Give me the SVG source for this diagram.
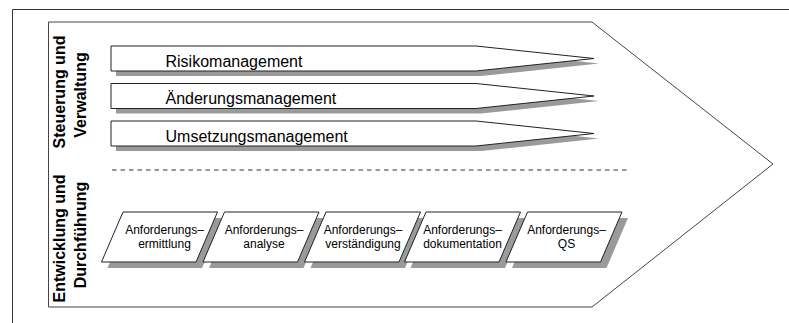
<svg xmlns="http://www.w3.org/2000/svg" width="789" height="323" viewBox="0 0 789 323">
  <style>
    .frame { fill: none; stroke: #333; stroke-width: 1; }
    .chevron { fill: #fff; stroke: #444; stroke-width: 1; }
    .shadow { fill: #9a9a9a; stroke: none; }
    .shape { fill: #fff; stroke: #222; stroke-width: 1; stroke-linejoin: miter; stroke-miterlimit: 20; }
    .sep { stroke: #333; stroke-width: 1.2; stroke-dasharray: 4.5 4; fill: none; }
    .lane { font-family: "Liberation Sans", Arial, sans-serif; font-weight: bold; font-size: 16px; fill: #000; text-anchor: middle; }
    .bar-label { font-family: "Liberation Sans", Arial, sans-serif; font-size: 16px; fill: #000; }
    .step-label { font-family: "Liberation Sans", Arial, sans-serif; font-size: 12px; fill: #000; text-anchor: middle; }
  </style>
  <defs>
    <!-- tapered process bar, origin at its top-left corner -->
    <polygon id="bar" points="0,0 365,0 483,12.5 365,25 0,25"/>
    <!-- slanted process step, origin at its top-left corner -->
    <polygon id="step" points="0,0 94.5,0 73,50 -21.5,50"/>
  </defs>

  <rect width="789" height="323" fill="#fff"/>

  <!-- page frame (top and left edges) -->
  <path class="frame" d="M12.5,323 V9.5 H789"/>

  <!-- value-chain chevron -->
  <polygon class="chevron" points="48.5,22 592,22 773,164 592,307 48.5,307"/>

  <!-- lane titles -->
  <g id="lane-steuerung">
    <text class="lane" transform="translate(65,92) rotate(-90)">Steuerung und</text>
    <text class="lane" transform="translate(85.5,95) rotate(-90)">Verwaltung</text>
  </g>
  <g id="lane-entwicklung">
    <text class="lane" transform="translate(65,238.5) rotate(-90)">Entwicklung und</text>
    <text class="lane" transform="translate(85.5,235) rotate(-90)">Durchführung</text>
  </g>

  <!-- management bars -->
  <g id="risikomanagement">
    <use href="#bar" class="shadow" x="116" y="51"/>
    <use href="#bar" class="shape" x="111" y="46"/>
    <text class="bar-label" x="165.5" y="66.5">Risikomanagement</text>
  </g>
  <g id="aenderungsmanagement">
    <use href="#bar" class="shadow" x="116" y="88.5"/>
    <use href="#bar" class="shape" x="111" y="83.5"/>
    <text class="bar-label" x="165.5" y="104">Änderungsmanagement</text>
  </g>
  <g id="umsetzungsmanagement">
    <use href="#bar" class="shadow" x="116" y="126"/>
    <use href="#bar" class="shape" x="111" y="121"/>
    <text class="bar-label" x="165.5" y="141.5">Umsetzungsmanagement</text>
  </g>

  <!-- lane separator -->
  <line class="sep" x1="112" y1="170" x2="628" y2="170"/>

  <!-- requirement engineering steps -->
  <g id="ermittlung">
    <use href="#step" class="shadow" x="129" y="218"/>
    <use href="#step" class="shape" x="123" y="212"/>
    <text class="step-label" x="164.5" y="233.5">Anforderungs–</text>
    <text class="step-label" x="164.5" y="247.5">ermittlung</text>
  </g>
  <g id="analyse">
    <use href="#step" class="shadow" x="230.5" y="218"/>
    <use href="#step" class="shape" x="224.5" y="212"/>
    <text class="step-label" x="264" y="233.5">Anforderungs–</text>
    <text class="step-label" x="264" y="247.5">analyse</text>
  </g>
  <g id="verstaendigung">
    <use href="#step" class="shadow" x="332" y="218"/>
    <use href="#step" class="shape" x="326" y="212"/>
    <text class="step-label" x="363" y="233.5">Anforderungs–</text>
    <text class="step-label" x="363" y="247.5">verständigung</text>
  </g>
  <g id="dokumentation">
    <use href="#step" class="shadow" x="432" y="218"/>
    <use href="#step" class="shape" x="426" y="212"/>
    <text class="step-label" x="462.5" y="233.5">Anforderungs–</text>
    <text class="step-label" x="462.5" y="247.5">dokumentation</text>
  </g>
  <g id="qs">
    <use href="#step" class="shadow" x="533.5" y="218"/>
    <use href="#step" class="shape" x="527.5" y="212"/>
    <text class="step-label" x="566.5" y="233.5">Anforderungs–</text>
    <text class="step-label" x="566.5" y="247.5">QS</text>
  </g>
</svg>
